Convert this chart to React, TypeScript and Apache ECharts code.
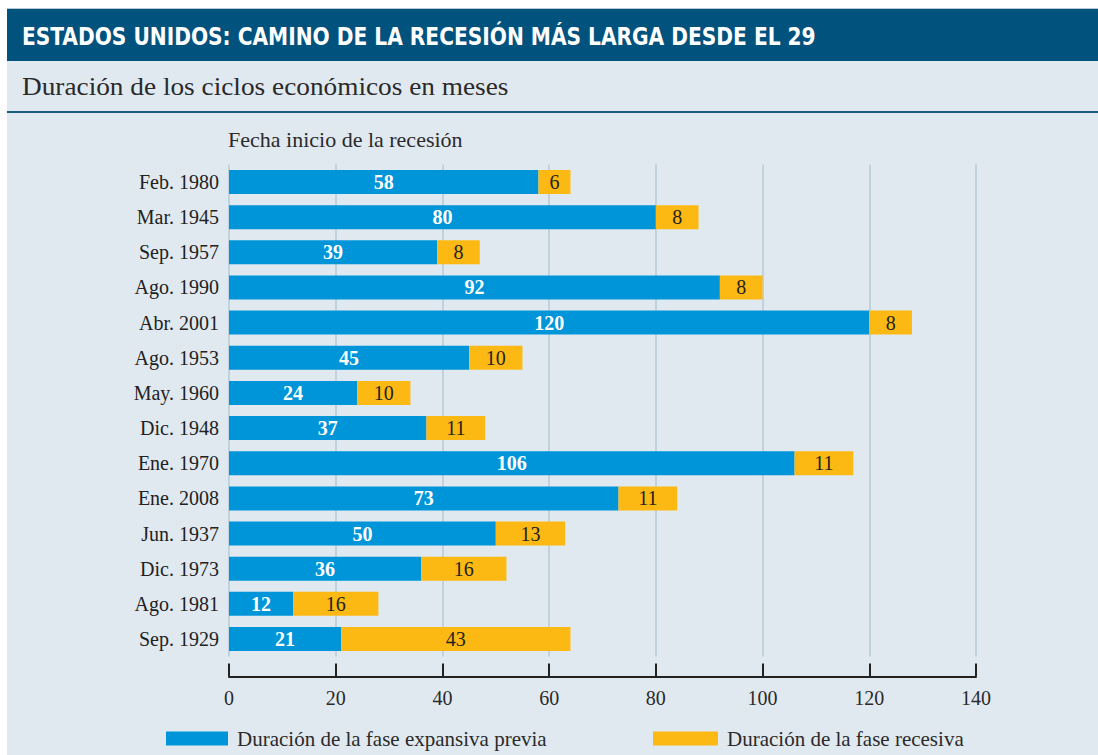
import React, { useEffect, useRef } from "react";
import * as echarts from "echarts";

const categories = [
  "Feb. 1980", "Mar. 1945", "Sep. 1957", "Ago. 1990", "Abr. 2001", "Ago. 1953", "May. 1960",
  "Dic. 1948", "Ene. 1970", "Ene. 2008", "Jun. 1937", "Dic. 1973", "Ago. 1981", "Sep. 1929",
];
const expansiva = [58, 80, 39, 92, 120, 45, 24, 37, 106, 73, 50, 36, 12, 21];
const recesiva = [6, 8, 8, 8, 8, 10, 10, 11, 11, 11, 13, 16, 16, 43];
const xTicks = { min: 0, max: 140, interval: 20 };

const SERIF = "'Liberation Serif', 'DejaVu Serif', serif";

export default function App() {
  const ref = useRef<HTMLDivElement>(null);
  useEffect(() => {
    if (!ref.current) return;
    const chart = echarts.init(ref.current, null, { renderer: "svg" });
    chart.setOption({
      animation: false,
      backgroundColor: "#ffffff",
      graphic: [
        { type: "rect", shape: { x: 7, y: 61, width: 1091, height: 694 }, style: { fill: "#e1e9f0" }, z: -10 },
        { type: "rect", shape: { x: 7, y: 8, width: 1091, height: 1 }, style: { fill: "#b7cad6" }, z: -9 },
        { type: "rect", shape: { x: 7, y: 9, width: 1091, height: 52 }, style: { fill: "#02527e" }, z: -9 },
        { type: "rect", shape: { x: 7, y: 111, width: 1091, height: 2 }, style: { fill: "#1d5a82" }, z: -9 },
        {
          type: "text", x: 22, y: 36, scaleX: 0.935,
          style: {
            text: "ESTADOS UNIDOS: CAMINO DE LA RECESIÓN MÁS LARGA DESDE EL 29",
            fill: "#ffffff", font: "bold 24px 'DejaVu Sans Condensed', 'DejaVu Sans', sans-serif",
            textVerticalAlign: "middle",
          },
        },
        {
          type: "text", x: 22, y: 86, scaleX: 1.05,
          style: {
            text: "Duración de los ciclos económicos en meses",
            fill: "#2a2a2a", font: `26px ${SERIF}`, textVerticalAlign: "middle",
          },
        },
        {
          type: "text", x: 228, y: 139,
          style: {
            text: "Fecha inicio de la recesión",
            fill: "#2a2a2a", font: `22px ${SERIF}`, textVerticalAlign: "middle",
          },
        },
      ],
      legend: [
        {
          data: ["Duración de la fase expansiva previa"],
          left: 166, top: 728, padding: 0, itemWidth: 62, itemHeight: 14, icon: "rect",
          textStyle: { fontFamily: SERIF, fontSize: 21, color: "#2a2a2a", padding: [0, 0, 0, 4] },
        },
        {
          data: ["Duración de la fase recesiva"],
          left: 653, top: 728, padding: 0, itemWidth: 65, itemHeight: 14, icon: "rect",
          textStyle: { fontFamily: SERIF, fontSize: 21, color: "#2a2a2a", padding: [0, 0, 0, 4] },
        },
      ],
      grid: { left: 229, right: 122, top: 164.4, bottom: 98.4, containLabel: false },
      xAxis: {
        type: "value",
        min: xTicks.min, max: xTicks.max, interval: xTicks.interval,
        position: "bottom", offset: 20,
        axisLine: { show: true, lineStyle: { color: "#222", width: 2 } },
        axisTick: { show: true, inside: true, length: 13, lineStyle: { color: "#222", width: 2 } },
        axisLabel: { fontFamily: SERIF, fontSize: 20, color: "#2a2a2a", margin: 11 },
        splitLine: { show: true, lineStyle: { color: "#b3cad7", width: 1.5 } },
      },
      yAxis: {
        type: "category", data: categories, inverse: true,
        axisLine: { show: false }, axisTick: { show: false },
        axisLabel: { fontFamily: SERIF, fontSize: 20, color: "#222", margin: 10 },
      },
      series: [
        {
          name: "Duración de la fase expansiva previa", type: "bar", stack: "t",
          data: expansiva, barWidth: 24, itemStyle: { color: "#0095d9" },
          label: { show: true, position: "inside", color: "#fff", fontWeight: "bold", fontFamily: SERIF, fontSize: 20 },
        },
        {
          name: "Duración de la fase recesiva", type: "bar", stack: "t",
          data: recesiva, barWidth: 24, itemStyle: { color: "#fdb913" },
          label: { show: true, position: "inside", color: "#222", fontFamily: SERIF, fontSize: 20 },
        },
      ],
    });
    return () => chart.dispose();
  }, []);
  return <div ref={ref} style={{ position: "fixed", left: 0, top: 0, width: 1098, height: 755 }} />;
}
